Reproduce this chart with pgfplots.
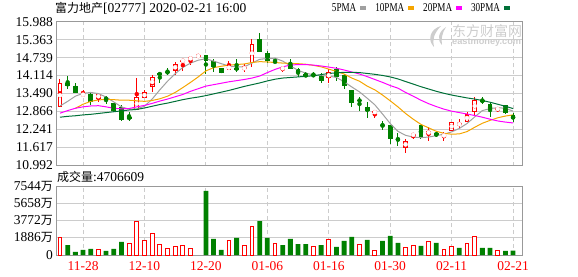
\documentclass[border=0pt]{standalone}
\usepackage{pgfplots}
\pgfplotsset{compat=1.18}
\usepackage{pgfplotstable}
\usepackage{fontspec}
\setmainfont{Liberation Serif}
\newfontfamily\cjk{Noto Sans CJK SC}
\newfontfamily\legfont[FakeStretch=0.76]{Liberation Serif}
\newfontfamily\wmfont{Liberation Sans}

\definecolor{upred}{RGB}{255,0,0}
\definecolor{dngreen}{RGB}{0,128,0}
\definecolor{maA}{RGB}{160,160,160}
\definecolor{maB}{RGB}{245,165,0}
\definecolor{maC}{RGB}{255,0,255}
\definecolor{maD}{RGB}{0,112,56}
\definecolor{gridc}{RGB}{204,204,204}
\definecolor{framec}{RGB}{153,153,153}
\definecolor{wm}{RGB}{205,205,205}

% up candles (close >= open)
\pgfplotstableread{
i o c h l
0 13.013 13.847 13.997 13.013
3 13.418 13.488 13.604 13.418
5 13.303 13.488 13.488 13.198
10 12.921 13.360 14.021 12.921
11 13.326 13.546 13.627 13.326
12 13.731 14.055 14.136 13.557
15 14.287 14.518 14.588 14.125
16 14.611 14.657 14.692 14.264
17 14.680 14.750 14.785 14.472
18 14.790 14.805 14.805 14.790
22 14.322 14.461 14.634 14.322
24 14.356 14.391 14.530 14.252
25 14.565 15.213 15.387 14.426
29 14.333 14.403 14.461 14.229
35 14.021 14.229 14.345 13.847
41 12.805 12.886 12.886 12.654
45 11.612 11.832 11.901 11.438
46 12.017 12.098 12.098 11.924
48 12.098 12.179 12.318 11.855
50 11.994 12.075 12.168 11.855
51 12.202 12.504 12.504 12.202
52 12.399 12.457 12.608 12.260
53 12.515 12.770 12.851 12.515
54 12.863 13.256 13.360 12.747
57 12.921 12.990 13.036 12.839
}\redk

% down candles (close < open)
\pgfplotstableread{
i o c h l
1 13.858 13.766 14.102 13.662
2 13.754 13.523 13.858 13.523
4 13.476 13.187 13.523 13.106
6 13.337 13.291 13.407 13.129
7 13.152 12.874 13.175 12.851
8 13.013 12.585 13.106 12.550
9 12.677 12.608 12.851 12.550
13 14.194 14.148 14.252 13.847
14 14.252 14.206 14.379 14.125
19 14.831 14.623 14.831 14.171
20 14.611 14.403 14.680 14.241
21 14.368 14.194 14.368 14.194
23 14.391 14.322 14.704 14.252
26 15.387 14.947 15.607 14.947
27 14.912 14.634 14.982 14.565
28 14.623 14.565 14.715 14.542
30 14.507 14.345 14.704 14.345
31 14.333 14.194 14.368 14.067
32 14.171 14.067 14.229 14.067
33 14.148 14.102 14.229 14.067
34 14.102 13.939 14.194 13.870
36 14.333 14.079 14.414 13.928
37 14.125 13.754 14.171 13.662
38 13.615 13.175 13.615 13.036
39 13.268 13.233 13.360 12.897
40 13.013 12.897 13.198 12.654
42 12.411 12.376 12.527 12.226
43 12.388 11.924 12.388 11.739
44 11.959 11.855 12.110 11.670
47 12.388 11.971 12.388 11.924
49 12.110 12.052 12.156 11.971
55 13.256 13.210 13.384 13.117
56 13.117 12.921 13.152 12.689
58 13.082 12.805 13.082 12.781
59 12.735 12.608 12.805 12.515
}\grnk

% volume (10k shares)
\pgfplotstableread{
i v
0 1944
5 620
9 1280
10 3700
11 1610
12 2380
13 1175
14 735
15 955
16 1065
17 735
22 1610
24 990
25 3075
28 1280
33 880
35 1720
39 1175
41 515
45 845
46 1065
48 1500
50 620
51 955
53 1280
54 2050
57 515
}\volr

\pgfplotstableread{
i v
1 1098
2 330
3 550
4 660
6 440
7 660
8 1430
19 7030
20 1760
21 550
23 1870
26 3730
27 1870
29 1098
30 1760
31 1208
32 1208
34 1098
36 880
37 1540
38 1980
40 1650
42 1540
43 2090
44 1320
47 990
49 1320
52 770
55 770
56 770
58 440
59 471
}\volg

\begin{document}
\begin{tikzpicture}[x=1pt,y=1pt]
% watermark
\fill[wm] (441,250) .. controls (430,247) and (427,236) .. (434,229) .. controls (432,236) and (434,243) .. (441,250) -- cycle;
\fill[wm] (446,249) .. controls (438,244) and (437,236) .. (442,231) .. controls (441,237) and (442,243) .. (446,249) -- cycle;
\node[anchor=west, inner sep=0pt, text=wm] at (452,245) {\cjk\fontsize{14}{14}\selectfont 东方财富网};
\node[anchor=west, inner sep=0pt, text=wm] at (452,233.5) {\wmfont\bfseries\fontsize{9.2}{9.2}\selectfont eastmoney.com};

\begin{axis}[
  at={(56pt,110.5pt)}, anchor=south west, scale only axis,
  width=466pt, height=143.8pt,
  xmin=-0.52, xmax=60.16, ymin=10.992, ymax=15.988,
  xtick={3,11,19,27,35,43,51,59}, xticklabels={},
  ytick={10.992,11.617,12.241,12.866,13.490,14.114,14.739,15.363,15.988},
  yticklabels={10.992,11.617,12.241,12.866,13.490,14.114,14.739,15.363,15.988},
  major tick length=0pt,
  axis line style={framec, line width=1pt},
  ymajorgrids, xmajorgrids,
  y grid style={gridc, line width=1pt},
  x grid style={gridc, line width=1pt, dash pattern=on 4pt off 3pt},
  yticklabel style={font=\fontsize{13.5}{14}\selectfont, anchor=east, inner sep=0pt, xshift=-3pt},
  scaled y ticks=false,
  legend plot pos=right,
  legend image code/.code={\fill[#1] (0pt,-1.5pt) rectangle (5pt,1.5pt);},
  legend style={at={(0.9742,1.0918)}, anchor=east, draw=none, fill=none,
    inner sep=0pt, outer sep=0pt, legend columns=-1,
    nodes={inner sep=0pt},
    font=\legfont\fontsize{12}{12}\selectfont,
    /tikz/every odd column/.append style={column sep=4pt},
    /tikz/every even column/.append style={column sep=9pt}},
]
% wicks
\addplot[forget plot, only marks, mark=none, color=upred,
  error bars/.cd, y dir=both, y explicit, error mark=none,
  error bar style={draw=upred, line width=1pt}]
  table[x=i, y expr={(\thisrow{h}+\thisrow{l})/2}, y error expr={(\thisrow{h}-\thisrow{l})/2}] {\redk};
\addplot[forget plot, only marks, mark=none, color=dngreen,
  error bars/.cd, y dir=both, y explicit, error mark=none,
  error bar style={draw=dngreen, line width=1pt}]
  table[x=i, y expr={(\thisrow{h}+\thisrow{l})/2}, y error expr={(\thisrow{h}-\thisrow{l})/2}] {\grnk};
% bodies
\addplot[forget plot, only marks, mark=none, color=upred,
  error bars/.cd, y dir=both, y explicit, error mark=none,
  error bar style={draw=upred, line width=4.8pt}]
  table[x=i, y expr={(\thisrow{o}+\thisrow{c})/2}, y error expr={max(abs(\thisrow{c}-\thisrow{o})/2,0.02)}] {\redk};
\addplot[forget plot, only marks, mark=none, color=white,
  error bars/.cd, y dir=both, y explicit, error mark=none,
  error bar style={draw=white, line width=2.8pt}]
  table[x=i, y expr={(\thisrow{o}+\thisrow{c})/2}, y error expr={max(abs(\thisrow{c}-\thisrow{o})/2-0.0347,0)}] {\redk};
\addplot[forget plot, only marks, mark=none, color=dngreen,
  error bars/.cd, y dir=both, y explicit, error mark=none,
  error bar style={draw=dngreen, line width=4.8pt}]
  table[x=i, y expr={(\thisrow{o}+\thisrow{c})/2}, y error expr={max(abs(\thisrow{c}-\thisrow{o})/2,0.02)}] {\grnk};
% moving averages
\addplot[color=maA, line width=1pt, mark=none] coordinates {
(0,13.06) (1,13.22) (2,13.40) (3,13.50) (4,13.53) (5,13.49) (6,13.37) (7,13.20) (8,13.03) (9,12.95)
(10,12.96) (11,13.05) (12,13.30) (13,13.62) (14,13.92) (15,14.18) (16,14.40) (17,14.55) (18,14.65) (19,14.70)
(20,14.62) (21,14.53) (22,14.45) (23,14.42) (24,14.42) (25,14.55) (26,14.68) (27,14.71) (28,14.72) (29,14.62)
(30,14.45) (31,14.30) (32,14.20) (33,14.14) (34,14.11) (35,14.10) (36,14.05) (37,13.90) (38,13.72) (39,13.55)
(40,13.33) (41,13.10) (42,12.78) (43,12.45) (44,12.18) (45,12.04) (46,11.98) (47,11.96) (48,11.98) (49,12.03)
(50,12.08) (51,12.16) (52,12.28) (53,12.45) (54,12.68) (55,12.90) (56,12.97) (57,13.00) (58,12.98) (59,12.88)};
\addlegendentry{5PMA}
\addplot[color=maB, line width=1pt, mark=none] coordinates {
(2,12.98) (3,13.12) (4,13.22) (5,13.27) (6,13.29) (7,13.28) (8,13.26) (9,13.26)
(10,13.24) (11,13.22) (12,13.25) (13,13.31) (14,13.40) (15,13.53) (16,13.70) (17,13.88) (18,14.07) (19,14.28)
(20,14.39) (21,14.44) (22,14.48) (23,14.50) (24,14.52) (25,14.57) (26,14.60) (27,14.59) (28,14.57) (29,14.55)
(30,14.54) (31,14.53) (32,14.51) (33,14.47) (34,14.42) (35,14.34) (36,14.26) (37,14.17) (38,14.03) (39,13.92)
(40,13.75) (41,13.62) (42,13.44) (43,13.24) (44,13.03) (45,12.80) (46,12.60) (47,12.42) (48,12.30) (49,12.18)
(50,12.11) (51,12.08) (52,12.09) (53,12.17) (54,12.32) (55,12.46) (56,12.56) (57,12.65) (58,12.71) (59,12.75)};
\addlegendentry{10PMA}
\addplot[color=maC, line width=1pt, mark=none] coordinates {
(0,12.81) (1,12.90) (2,12.98) (3,13.03) (4,13.06) (5,13.07) (6,13.03) (7,12.98) (8,12.96) (9,12.97)
(10,13.03) (11,13.08) (12,13.15) (13,13.23) (14,13.30) (15,13.38) (16,13.46) (17,13.57) (18,13.66) (19,13.75)
(20,13.80) (21,13.85) (22,13.90) (23,13.94) (24,13.98) (25,14.03) (26,14.10) (27,14.22) (28,14.33) (29,14.42)
(30,14.48) (31,14.50) (32,14.50) (33,14.48) (34,14.45) (35,14.41) (36,14.37) (37,14.31) (38,14.24) (39,14.17)
(40,14.08) (41,13.98) (42,13.88) (43,13.77) (44,13.68) (45,13.53) (46,13.40) (47,13.26) (48,13.14) (49,13.04)
(50,12.95) (51,12.88) (52,12.83) (53,12.78) (54,12.73) (55,12.67) (56,12.60) (57,12.54) (58,12.50) (59,12.47)};
\addlegendentry{20PMA}
\addplot[color=maD, line width=1pt, mark=none] coordinates {
(0,12.67) (1,12.70) (2,12.72) (3,12.75) (4,12.77) (5,12.80) (6,12.83) (7,12.86) (8,12.89) (9,12.92)
(10,12.94) (11,12.99) (12,13.05) (13,13.11) (14,13.16) (15,13.22) (16,13.28) (17,13.33) (18,13.37) (19,13.42)
(20,13.48) (21,13.54) (22,13.60) (23,13.67) (24,13.74) (25,13.80) (26,13.86) (27,13.93) (28,13.99) (29,14.03)
(30,14.05) (31,14.07) (32,14.09) (33,14.11) (34,14.15) (35,14.19) (36,14.21) (37,14.23) (38,14.23) (39,14.22)
(40,14.19) (41,14.16) (42,14.12) (43,14.07) (44,14.00) (45,13.91) (46,13.82) (47,13.73) (48,13.65) (49,13.57)
(50,13.50) (51,13.44) (52,13.39) (53,13.34) (54,13.30) (55,13.25) (56,13.19) (57,13.12) (58,13.05) (59,12.97)};
\addlegendentry{30PMA}
\end{axis}

\begin{axis}[
  at={(56pt,21pt)}, anchor=south west, scale only axis,
  width=466pt, height=68.7pt,
  xmin=-0.52, xmax=60.16, ymin=0, ymax=7544,
  xtick={3,11,19,27,35,43,51,59},
  xticklabels={11-28,12-10,12-20,01-06,01-16,01-30,02-11,02-21},
  ytick={0,1886,3772,5658,7544},
  yticklabels={0,1886{\cjk\fontsize{12}{12}\selectfont 万},3772{\cjk\fontsize{12}{12}\selectfont 万},5658{\cjk\fontsize{12}{12}\selectfont 万},7544{\cjk\fontsize{12}{12}\selectfont 万}},
  scaled y ticks=false,
  major tick length=0pt,
  axis line style={framec, line width=1pt},
  ymajorgrids, xmajorgrids,
  y grid style={gridc, line width=1pt},
  x grid style={gridc, line width=1pt, dash pattern=on 4pt off 3pt},
  yticklabel style={font=\fontsize{13.5}{14}\selectfont, anchor=east, inner sep=0pt, xshift=-3pt},
  xticklabel style={font=\fontsize{13.5}{14}\selectfont, text=upred, anchor=north, inner sep=0pt, yshift=-6pt},
]
\addplot[ybar, bar width=4.8pt, bar shift=0pt, fill=dngreen, draw=none] table[x=i, y=v] {\volg};
\addplot[ybar, bar width=3.8pt, bar shift=0pt, fill=white, draw=upred, line width=1pt] table[x=i, y=v] {\volr};
\end{axis}

% texts
\node[anchor=west, inner sep=0pt] at (55,267.5) {{\cjk\fontsize{12}{12}\selectfont 富力地产}\fontsize{13.5}{14}\selectfont[02777] 2020-02-21 16:00};
\node[anchor=west, inner sep=0pt] at (57,99.3) {{\cjk\fontsize{12}{12}\selectfont 成交量}\fontsize{13.5}{14}\selectfont:4706609};

\pgfresetboundingbox
\path (0,0) rectangle (578,276);
\end{tikzpicture}
\end{document}
